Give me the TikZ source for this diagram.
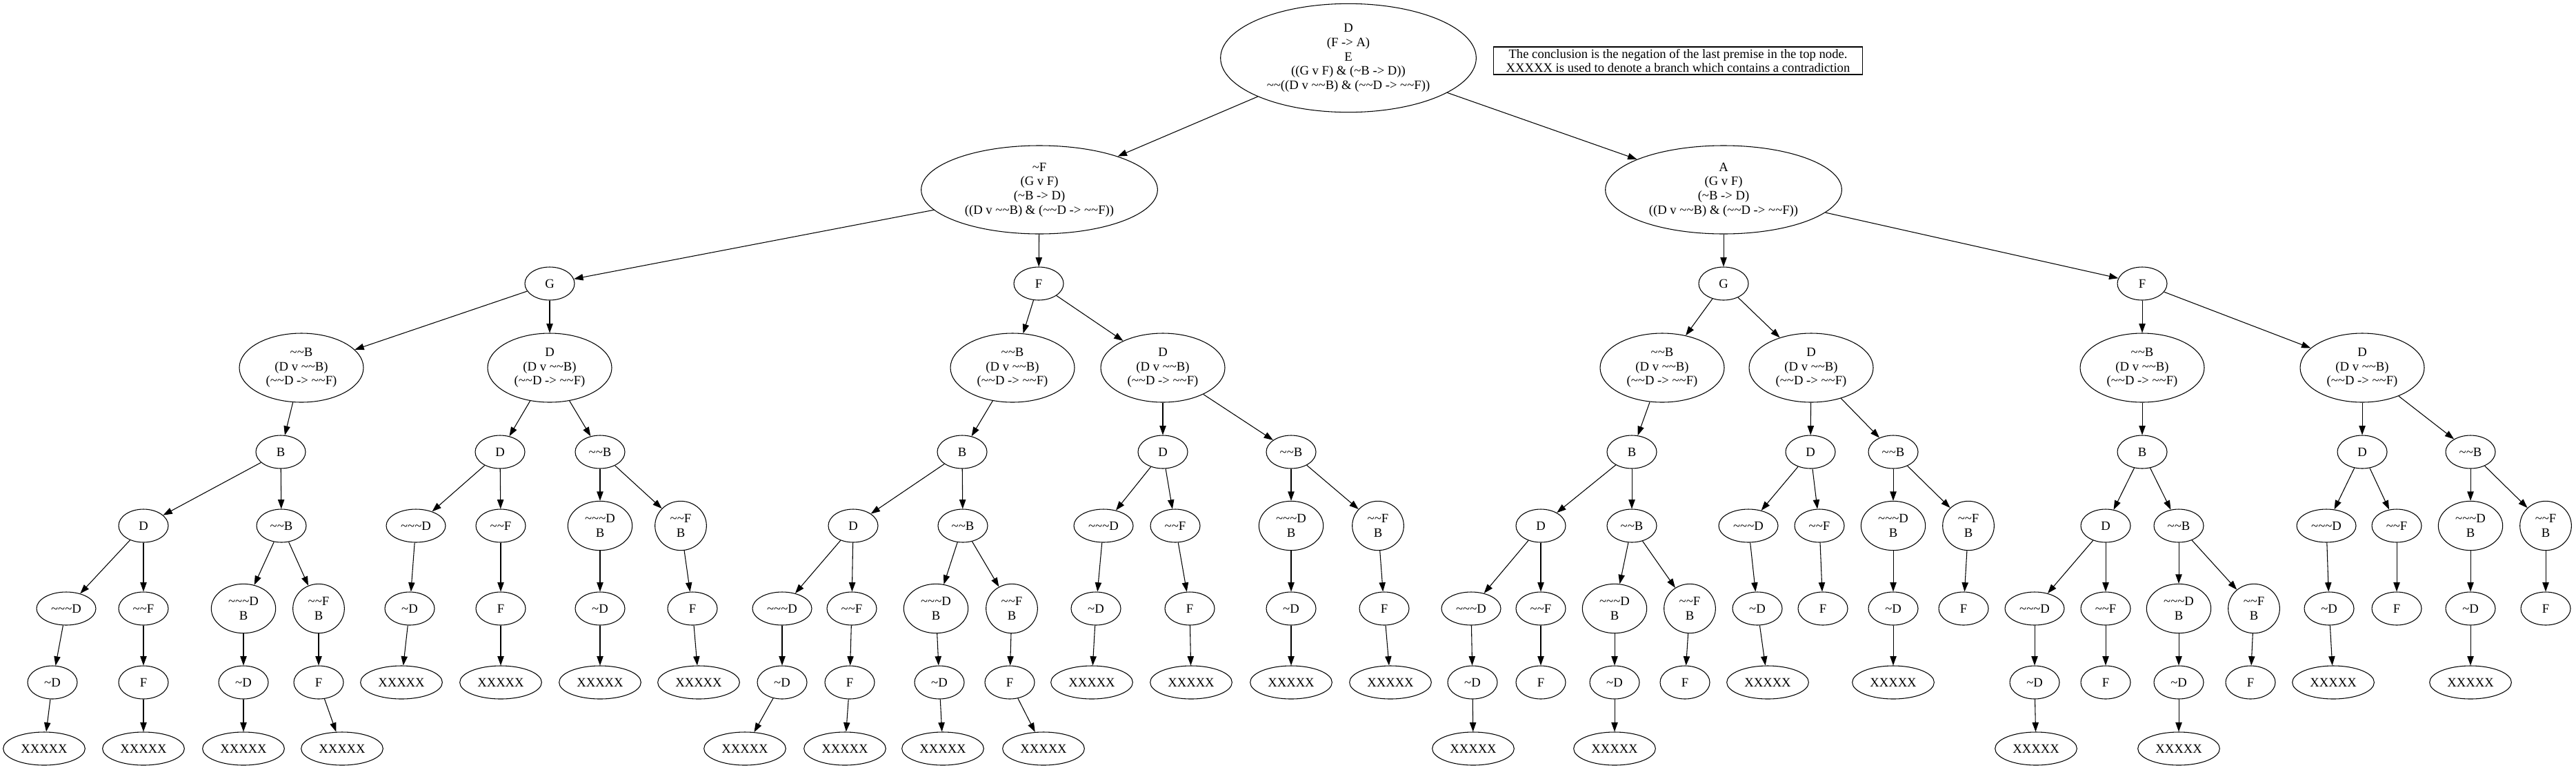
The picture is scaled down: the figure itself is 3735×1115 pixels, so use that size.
\documentclass[tikz,border=0pt]{standalone}
\usepackage{fontspec}
\setmainfont{Liberation Serif}
\usepackage{tikz}
\usetikzlibrary{shapes.geometric,arrows.meta}

\newcommand{\tld}{\textasciitilde}

\tikzset{
	tnode/.style={shape=ellipse, draw=black, thick, inner sep=0pt, minimum width=54pt, minimum height=36pt, align=center, font=\fontsize{14pt}{15.5pt}\selectfont},
	wnode/.style={tnode, minimum width=64.5pt},
	xnode/.style={tnode, minimum width=89pt},
	dbnode/.style={tnode, minimum width=70pt, minimum height=53.5pt},
	fbnode/.style={tnode, minimum width=56pt, minimum height=53.5pt},
	tripnode/.style={tnode, minimum width=135pt, minimum height=75pt},
	quadnode/.style={tnode, minimum width=257pt, minimum height=96pt},
	topnode/.style={tnode, minimum width=278pt, minimum height=118pt},
	notebox/.style={shape=rectangle, draw=black, thick, inner xsep=6pt, inner ysep=2pt, minimum width=401pt, minimum height=30pt, align=center, font=\fontsize{14pt}{14.5pt}\selectfont},
	>={Triangle[length=10pt, width=7pt]}
}

\begin{document}
\begin{tikzpicture}[x=0.75pt, y=-0.75pt]

	\useasboundingbox (0, 0) rectangle (3735, 1115);

	\node[topnode] (root) at (1955, 84) {D\\(F -> A)\\E\\((G v F) \& (\tld B -> D))\\\tld\tld((D v \tld\tld B) \& (\tld\tld D -> \tld\tld F))};
	\node[notebox] (note) at (2433, 88) {The conclusion is the negation of the last premise in the top node.\\XXXXX is used to denote a branch which contains a contradiction};
	\node[quadnode] (nf) at (1507, 275) {\tld F\\(G v F)\\(\tld B -> D)\\((D v \tld\tld B) \& (\tld\tld D -> \tld\tld F))};
	\node[quadnode] (a) at (2499, 275) {A\\(G v F)\\(\tld B -> D)\\((D v \tld\tld B) \& (\tld\tld D -> \tld\tld F))};

	\node[tnode] (fg) at (797, 411) {G};
	\node[tripnode] (fgb3) at (437, 533) {\tld\tld B\\(D v \tld\tld B)\\(\tld\tld D -> \tld\tld F)};
	\node[tripnode] (fgd3) at (797, 533) {D\\(D v \tld\tld B)\\(\tld\tld D -> \tld\tld F)};
	\node[tnode] (fgb) at (407, 655) {B};
	\node[tnode] (fgd) at (725, 655) {D};
	\node[tnode] (fgnb) at (870, 655) {\tld\tld B};
	\node[tnode] (fgbd) at (208, 762) {D};
	\node[tnode] (fgbnb) at (408, 762) {\tld\tld B};
	\node[wnode] (fgdd) at (603, 762) {\tld\tld\tld D};
	\node[tnode] (fgdf) at (726, 762) {\tld\tld F};
	\node[dbnode] (fgnbd) at (870, 762) {\tld\tld\tld D\\B};
	\node[fbnode] (fgnbf) at (987, 762) {\tld\tld F\\B};
	\node[wnode] (fgbdd) at (96, 882) {\tld\tld\tld D};
	\node[tnode] (fgbdf) at (208, 882) {\tld\tld F};
	\node[dbnode] (fgbnbd) at (353, 882) {\tld\tld\tld D\\B};
	\node[fbnode] (fgbnbf) at (462, 882) {\tld\tld F\\B};
	\node[tnode] (fgddn) at (594, 882) {\tld D};
	\node[tnode] (fgdfn) at (726, 882) {F};
	\node[tnode] (fgnbdn) at (870, 882) {\tld D};
	\node[tnode] (fgnbfn) at (1004, 882) {F};
	\node[tnode] (fgbddn) at (76, 989) {\tld D};
	\node[tnode] (fgbdfn) at (208, 989) {F};
	\node[tnode] (fgbnbdn) at (353, 989) {\tld D};
	\node[tnode] (fgbnbfn) at (462, 989) {F};
	\node[xnode] (fgddx) at (582, 989) {XXXXX};
	\node[xnode] (fgdfx) at (726, 989) {XXXXX};
	\node[xnode] (fgnbdx) at (870, 989) {XXXXX};
	\node[xnode] (fgnbfx) at (1013, 989) {XXXXX};
	\node[xnode] (fgbddx) at (64, 1085) {XXXXX};
	\node[xnode] (fgbdfx) at (208, 1085) {XXXXX};
	\node[xnode] (fgbnbdx) at (353, 1085) {XXXXX};
	\node[xnode] (fgbnbfx) at (496, 1085) {XXXXX};

	\node[tnode] (ff) at (1506, 411) {F};
	\node[tripnode] (ffb3) at (1468, 533) {\tld\tld B\\(D v \tld\tld B)\\(\tld\tld D -> \tld\tld F)};
	\node[tripnode] (ffd3) at (1686, 533) {D\\(D v \tld\tld B)\\(\tld\tld D -> \tld\tld F)};
	\node[tnode] (ffb) at (1395, 655) {B};
	\node[tnode] (ffd) at (1686, 655) {D};
	\node[tnode] (ffnb) at (1872, 655) {\tld\tld B};
	\node[tnode] (ffbd) at (1237, 762) {D};
	\node[tnode] (ffbnb) at (1396, 762) {\tld\tld B};
	\node[wnode] (ffdd) at (1600, 762) {\tld\tld\tld D};
	\node[tnode] (ffdf) at (1704, 762) {\tld\tld F};
	\node[dbnode] (ffnbd) at (1872, 762) {\tld\tld\tld D\\B};
	\node[fbnode] (ffnbf) at (1998, 762) {\tld\tld F\\B};
	\node[wnode] (ffbdd) at (1134, 882) {\tld\tld\tld D};
	\node[tnode] (ffbdf) at (1235, 882) {\tld\tld F};
	\node[dbnode] (ffbnbd) at (1357, 882) {\tld\tld\tld D\\B};
	\node[fbnode] (ffbnbf) at (1467, 882) {\tld\tld F\\B};
	\node[tnode] (ffddn) at (1589, 882) {\tld D};
	\node[tnode] (ffdfn) at (1725, 882) {F};
	\node[tnode] (ffnbdn) at (1872, 882) {\tld D};
	\node[tnode] (ffnbfn) at (2007, 882) {F};
	\node[tnode] (ffbddn) at (1134, 989) {\tld D};
	\node[tnode] (ffbdfn) at (1232, 989) {F};
	\node[tnode] (ffbnbdn) at (1362, 989) {\tld D};
	\node[tnode] (ffbnbfn) at (1464, 989) {F};
	\node[xnode] (ffddx) at (1583, 989) {XXXXX};
	\node[xnode] (ffdfx) at (1727, 989) {XXXXX};
	\node[xnode] (ffnbdx) at (1872, 989) {XXXXX};
	\node[xnode] (ffnbfx) at (2016, 989) {XXXXX};
	\node[xnode] (ffbddx) at (1080, 1085) {XXXXX};
	\node[xnode] (ffbdfx) at (1225, 1085) {XXXXX};
	\node[xnode] (ffbnbdx) at (1367, 1085) {XXXXX};
	\node[xnode] (ffbnbfx) at (1513, 1085) {XXXXX};

	\node[tnode] (ag) at (2499, 411) {G};
	\node[tripnode] (agb3) at (2410, 533) {\tld\tld B\\(D v \tld\tld B)\\(\tld\tld D -> \tld\tld F)};
	\node[tripnode] (agd3) at (2626, 533) {D\\(D v \tld\tld B)\\(\tld\tld D -> \tld\tld F)};
	\node[tnode] (agb) at (2366, 655) {B};
	\node[tnode] (agd) at (2625, 655) {D};
	\node[tnode] (agnb) at (2745, 655) {\tld\tld B};
	\node[tnode] (agbd) at (2234, 762) {D};
	\node[tnode] (agbnb) at (2366, 762) {\tld\tld B};
	\node[wnode] (agdd) at (2535, 762) {\tld\tld\tld D};
	\node[tnode] (agdf) at (2638, 762) {\tld\tld F};
	\node[dbnode] (agnbd) at (2745, 762) {\tld\tld\tld D\\B};
	\node[fbnode] (agnbf) at (2854, 762) {\tld\tld F\\B};
	\node[wnode] (agbdd) at (2133, 882) {\tld\tld\tld D};
	\node[tnode] (agbdf) at (2234, 882) {\tld\tld F};
	\node[dbnode] (agbnbd) at (2341, 882) {\tld\tld\tld D\\B};
	\node[fbnode] (agbnbf) at (2450, 882) {\tld\tld F\\B};
	\node[tnode] (agddn) at (2548, 882) {\tld D};
	\node[tnode] (agdfn) at (2643, 882) {F};
	\node[tnode] (agnbdn) at (2745, 882) {\tld D};
	\node[tnode] (agnbfn) at (2847, 882) {F};
	\node[tnode] (agbddn) at (2135, 989) {\tld D};
	\node[tnode] (agbdfn) at (2234, 989) {F};
	\node[tnode] (agbnbdn) at (2341, 989) {\tld D};
	\node[tnode] (agbnbfn) at (2443, 989) {F};
	\node[xnode] (agddx) at (2563, 989) {XXXXX};
	\node[xnode] (agnbdx) at (2745, 989) {XXXXX};
	\node[xnode] (agbddx) at (2136, 1085) {XXXXX};
	\node[xnode] (agbnbdx) at (2341, 1085) {XXXXX};

	\node[tnode] (af) at (3106, 411) {F};
	\node[tripnode] (afb3) at (3106, 533) {\tld\tld B\\(D v \tld\tld B)\\(\tld\tld D -> \tld\tld F)};
	\node[tripnode] (afd3) at (3425, 533) {D\\(D v \tld\tld B)\\(\tld\tld D -> \tld\tld F)};
	\node[tnode] (afb) at (3106, 655) {B};
	\node[tnode] (afd) at (3425, 655) {D};
	\node[tnode] (afnb) at (3582, 655) {\tld\tld B};
	\node[tnode] (afbd) at (3053, 762) {D};
	\node[tnode] (afbnb) at (3159, 762) {\tld\tld B};
	\node[wnode] (afdd) at (3373, 762) {\tld\tld\tld D};
	\node[tnode] (afdf) at (3475, 762) {\tld\tld F};
	\node[dbnode] (afnbd) at (3582, 762) {\tld\tld\tld D\\B};
	\node[fbnode] (afnbf) at (3691, 762) {\tld\tld F\\B};
	\node[wnode] (afbdd) at (2950, 882) {\tld\tld\tld D};
	\node[tnode] (afbdf) at (3053, 882) {\tld\tld F};
	\node[dbnode] (afbnbd) at (3159, 882) {\tld\tld\tld D\\B};
	\node[fbnode] (afbnbf) at (3268, 882) {\tld\tld F\\B};
	\node[tnode] (afddn) at (3377, 882) {\tld D};
	\node[tnode] (afdfn) at (3475, 882) {F};
	\node[tnode] (afnbdn) at (3582, 882) {\tld D};
	\node[tnode] (afnbfn) at (3691, 882) {F};
	\node[tnode] (afbddn) at (2950, 989) {\tld D};
	\node[tnode] (afbdfn) at (3053, 989) {F};
	\node[tnode] (afbnbdn) at (3159, 989) {\tld D};
	\node[tnode] (afbnbfn) at (3263, 989) {F};
	\node[xnode] (afddx) at (3383, 989) {XXXXX};
	\node[xnode] (afnbdx) at (3582, 989) {XXXXX};
	\node[xnode] (afbddx) at (2952, 1085) {XXXXX};
	\node[xnode] (afbnbdx) at (3159, 1085) {XXXXX};

	\path[->, thick] (root) edge (nf);
	\path[->, thick] (root) edge (a);
	\path[->, thick] (nf) edge (fg);
	\path[->, thick] (nf) edge (ff);
	\path[->, thick] (a) edge (ag);
	\path[->, thick] (a) edge (af);

	\path[->, thick] (fg) edge (fgb3);
	\path[->, thick] (fg) edge (fgd3);
	\path[->, thick] (fgb3) edge (fgb);
	\path[->, thick] (fgd3) edge (fgd);
	\path[->, thick] (fgd3) edge (fgnb);
	\path[->, thick] (fgb) edge (fgbd);
	\path[->, thick] (fgb) edge (fgbnb);
	\path[->, thick] (fgd) edge (fgdd);
	\path[->, thick] (fgd) edge (fgdf);
	\path[->, thick] (fgnb) edge (fgnbd);
	\path[->, thick] (fgnb) edge (fgnbf);
	\path[->, thick] (fgbd) edge (fgbdd);
	\path[->, thick] (fgbd) edge (fgbdf);
	\path[->, thick] (fgbnb) edge (fgbnbd);
	\path[->, thick] (fgbnb) edge (fgbnbf);
	\path[->, thick] (fgdd) edge (fgddn);
	\path[->, thick] (fgdf) edge (fgdfn);
	\path[->, thick] (fgnbd) edge (fgnbdn);
	\path[->, thick] (fgnbf) edge (fgnbfn);
	\path[->, thick] (fgbdd) edge (fgbddn);
	\path[->, thick] (fgbdf) edge (fgbdfn);
	\path[->, thick] (fgbnbd) edge (fgbnbdn);
	\path[->, thick] (fgbnbf) edge (fgbnbfn);
	\path[->, thick] (fgddn) edge (fgddx);
	\path[->, thick] (fgdfn) edge (fgdfx);
	\path[->, thick] (fgnbdn) edge (fgnbdx);
	\path[->, thick] (fgnbfn) edge (fgnbfx);
	\path[->, thick] (fgbddn) edge (fgbddx);
	\path[->, thick] (fgbdfn) edge (fgbdfx);
	\path[->, thick] (fgbnbdn) edge (fgbnbdx);
	\path[->, thick] (fgbnbfn) edge (fgbnbfx);

	\path[->, thick] (ff) edge (ffb3);
	\path[->, thick] (ff) edge (ffd3);
	\path[->, thick] (ffb3) edge (ffb);
	\path[->, thick] (ffd3) edge (ffd);
	\path[->, thick] (ffd3) edge (ffnb);
	\path[->, thick] (ffb) edge (ffbd);
	\path[->, thick] (ffb) edge (ffbnb);
	\path[->, thick] (ffd) edge (ffdd);
	\path[->, thick] (ffd) edge (ffdf);
	\path[->, thick] (ffnb) edge (ffnbd);
	\path[->, thick] (ffnb) edge (ffnbf);
	\path[->, thick] (ffbd) edge (ffbdd);
	\path[->, thick] (ffbd) edge (ffbdf);
	\path[->, thick] (ffbnb) edge (ffbnbd);
	\path[->, thick] (ffbnb) edge (ffbnbf);
	\path[->, thick] (ffdd) edge (ffddn);
	\path[->, thick] (ffdf) edge (ffdfn);
	\path[->, thick] (ffnbd) edge (ffnbdn);
	\path[->, thick] (ffnbf) edge (ffnbfn);
	\path[->, thick] (ffbdd) edge (ffbddn);
	\path[->, thick] (ffbdf) edge (ffbdfn);
	\path[->, thick] (ffbnbd) edge (ffbnbdn);
	\path[->, thick] (ffbnbf) edge (ffbnbfn);
	\path[->, thick] (ffddn) edge (ffddx);
	\path[->, thick] (ffdfn) edge (ffdfx);
	\path[->, thick] (ffnbdn) edge (ffnbdx);
	\path[->, thick] (ffnbfn) edge (ffnbfx);
	\path[->, thick] (ffbddn) edge (ffbddx);
	\path[->, thick] (ffbdfn) edge (ffbdfx);
	\path[->, thick] (ffbnbdn) edge (ffbnbdx);
	\path[->, thick] (ffbnbfn) edge (ffbnbfx);

	\path[->, thick] (ag) edge (agb3);
	\path[->, thick] (ag) edge (agd3);
	\path[->, thick] (agb3) edge (agb);
	\path[->, thick] (agd3) edge (agd);
	\path[->, thick] (agd3) edge (agnb);
	\path[->, thick] (agb) edge (agbd);
	\path[->, thick] (agb) edge (agbnb);
	\path[->, thick] (agd) edge (agdd);
	\path[->, thick] (agd) edge (agdf);
	\path[->, thick] (agnb) edge (agnbd);
	\path[->, thick] (agnb) edge (agnbf);
	\path[->, thick] (agbd) edge (agbdd);
	\path[->, thick] (agbd) edge (agbdf);
	\path[->, thick] (agbnb) edge (agbnbd);
	\path[->, thick] (agbnb) edge (agbnbf);
	\path[->, thick] (agdd) edge (agddn);
	\path[->, thick] (agdf) edge (agdfn);
	\path[->, thick] (agnbd) edge (agnbdn);
	\path[->, thick] (agnbf) edge (agnbfn);
	\path[->, thick] (agbdd) edge (agbddn);
	\path[->, thick] (agbdf) edge (agbdfn);
	\path[->, thick] (agbnbd) edge (agbnbdn);
	\path[->, thick] (agbnbf) edge (agbnbfn);
	\path[->, thick] (agddn) edge (agddx);
	\path[->, thick] (agnbdn) edge (agnbdx);
	\path[->, thick] (agbddn) edge (agbddx);
	\path[->, thick] (agbnbdn) edge (agbnbdx);

	\path[->, thick] (af) edge (afb3);
	\path[->, thick] (af) edge (afd3);
	\path[->, thick] (afb3) edge (afb);
	\path[->, thick] (afd3) edge (afd);
	\path[->, thick] (afd3) edge (afnb);
	\path[->, thick] (afb) edge (afbd);
	\path[->, thick] (afb) edge (afbnb);
	\path[->, thick] (afd) edge (afdd);
	\path[->, thick] (afd) edge (afdf);
	\path[->, thick] (afnb) edge (afnbd);
	\path[->, thick] (afnb) edge (afnbf);
	\path[->, thick] (afbd) edge (afbdd);
	\path[->, thick] (afbd) edge (afbdf);
	\path[->, thick] (afbnb) edge (afbnbd);
	\path[->, thick] (afbnb) edge (afbnbf);
	\path[->, thick] (afdd) edge (afddn);
	\path[->, thick] (afdf) edge (afdfn);
	\path[->, thick] (afnbd) edge (afnbdn);
	\path[->, thick] (afnbf) edge (afnbfn);
	\path[->, thick] (afbdd) edge (afbddn);
	\path[->, thick] (afbdf) edge (afbdfn);
	\path[->, thick] (afbnbd) edge (afbnbdn);
	\path[->, thick] (afbnbf) edge (afbnbfn);
	\path[->, thick] (afddn) edge (afddx);
	\path[->, thick] (afnbdn) edge (afnbdx);
	\path[->, thick] (afbddn) edge (afbddx);
	\path[->, thick] (afbnbdn) edge (afbnbdx);

\end{tikzpicture}
\end{document}
